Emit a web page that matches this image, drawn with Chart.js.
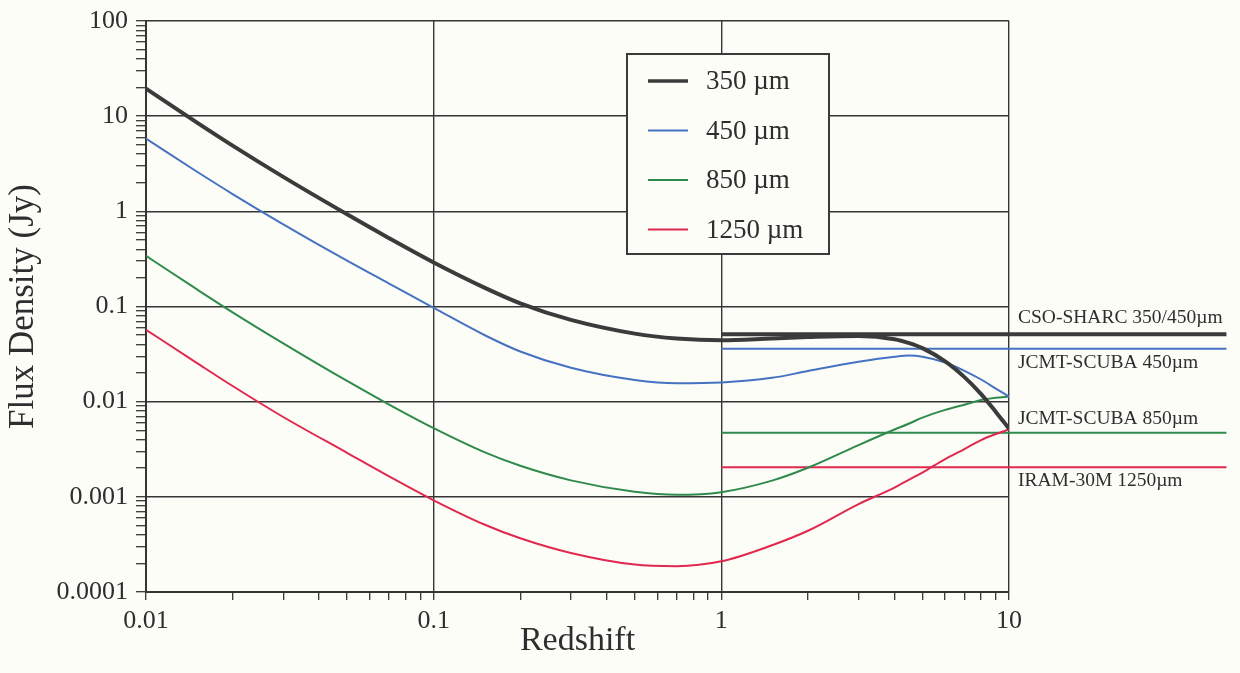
<!DOCTYPE html>
<html>
<head>
<meta charset="utf-8">
<title>Flux density vs redshift</title>
<script src="https://cdn.jsdelivr.net/npm/chart.js@4/dist/chart.umd.min.js"></script>
<style>
    html, body { margin: 0; padding: 0; background: #fdfdf8; }
    #wrap { width: 1240px; height: 673px; }
</style>
</head>
<body>
<div id="wrap"><canvas id="chartFlux" width="1240" height="673"></canvas></div>
<script>

// values
var redshift = [0.01, 0.015, 0.02, 0.03, 0.05, 0.07, 0.1, 0.15, 0.2, 0.3, 0.5, 0.7, 1, 1.5, 2, 3, 4, 4.5, 5, 6, 7, 8, 9, 10];

var flux350 = [19.5, 8.6, 4.9, 2.3, 0.93, 0.522, 0.29, 0.158, 0.108, 0.0723, 0.0519, 0.0461, 0.0442, 0.0462, 0.0477, 0.049, 0.0453, 0.0412, 0.0365, 0.0265, 0.0181, 0.012, 0.0078, 0.0052];
var flux450 = [5.8, 2.62, 1.52, 0.731, 0.303, 0.174, 0.0968, 0.0502, 0.0337, 0.0227, 0.0169, 0.0156, 0.0159, 0.0178, 0.021, 0.0262, 0.0296, 0.0305, 0.0297, 0.0258, 0.0211, 0.0171, 0.0137, 0.0113];
var flux850 = [0.34, 0.152, 0.0869, 0.041, 0.0165, 0.00933, 0.00527, 0.00295, 0.00212, 0.00149, 0.00113, 0.00105, 0.00112, 0.00148, 0.00202, 0.0035, 0.0051, 0.0059, 0.0068, 0.0082, 0.0093, 0.0104, 0.011, 0.0113];
var flux1250 = [0.057, 0.0256, 0.0146, 0.0069, 0.0029, 0.00164, 0.00092, 0.000512, 0.000367, 0.000257, 0.000194, 0.000187, 0.00021, 0.00031, 0.00044, 0.00084, 0.00125, 0.00152, 0.0018, 0.00249, 0.00318, 0.00395, 0.00457, 0.0051];

var seriesLabels = ['350 \u00b5m', '450 \u00b5m', '850 \u00b5m', '1250 \u00b5m'];

// detection limits of the instruments
var limitNames = ['CSO-SHARC 350/450\u00b5m', 'JCMT-SCUBA 450\u00b5m', 'JCMT-SCUBA 850\u00b5m', 'IRAM-30M 1250\u00b5m'];
var limitValues = [0.051, 0.036, 0.0047, 0.00205];
var limitRange = [1, 57];

var xTickValues = [0.01, 0.1, 1, 10];
var xTickLabels = ['0.01', '0.1', '1', '10'];
var yTickValues = [100, 10, 1, 0.1, 0.01, 0.001, 0.0001];
var yTickLabels = ['100', '10', '1', '0.1', '0.01', '0.001', '0.0001'];

var colors = ['#3b3b3b', '#4672c2', '#2f8a4c', '#e0294f'];
var widths = [4, 2, 2, 2];
var limitWidths = [4, 2, 2, 2];
var inkColor = '#2e2e2e';
var serif = '"Liberation Serif", "Times New Roman", serif';

function toPoints(xs, ys) {
    return xs.map(function (x, i) {
        return { x: x, y: ys[i] };
    });
}

function isDecade(v) {
    var l = Math.log10(v);
    return Math.abs(l - Math.round(l)) < 1e-6;
}

function logTicks(fromExp, toExp) {
    var ticks = [];
    for (var k = fromExp; k <= toExp; k++) {
        var base = Math.pow(10, k);
        ticks.push({ value: base });
        if (k < toExp) {
            for (var m = 2; m <= 9; m++) {
                ticks.push({ value: m * base });
            }
        }
    }
    return ticks;
}

function labelFor(value, values, labels) {
    for (var i = 0; i < values.length; i++) {
        if (Math.abs(value - values[i]) / values[i] < 1e-6) {
            return labels[i];
        }
    }
    return '';
}

var seriesData = [flux350, flux450, flux850, flux1250];
var datasets = [];

seriesData.forEach(function (values, i) {
    datasets.push({
        label: seriesLabels[i],
        data: toPoints(redshift, values),
        borderColor: colors[i],
        borderWidth: widths[i],
        pointRadius: 0,
        cubicInterpolationMode: 'monotone',
        fill: false
    });
});

limitValues.forEach(function (v, i) {
    datasets.push({
        label: limitNames[i],
        data: [{ x: limitRange[0], y: v }, { x: limitRange[1], y: v }],
        borderColor: colors[i],
        borderWidth: limitWidths[i],
        pointRadius: 0,
        clip: false,
        fill: false
    });
});

var paperPlugin = {
    id: 'paper',
    beforeDraw: function (chart) {
        var ctx = chart.ctx;
        ctx.save();
        ctx.fillStyle = '#fdfdf8';
        ctx.fillRect(0, 0, chart.width, chart.height);
        ctx.restore();
    }
};

// limit names next to the lines, and the boxed legend
var annotationPlugin = {
    id: 'annotations',
    afterDraw: function (chart) {
        var ctx = chart.ctx;
        var xs = chart.scales.x;
        var ys = chart.scales.y;
        var area = chart.chartArea;
        var offsets = [-16, 14, -14, 14];

        ctx.save();
        ctx.fillStyle = inkColor;
        ctx.font = '19.5px ' + serif;
        ctx.textAlign = 'left';
        ctx.textBaseline = 'middle';
        var textX = xs.getPixelForValue(10) + 9;
        limitNames.forEach(function (name, i) {
            ctx.fillText(name, textX, ys.getPixelForValue(limitValues[i]) + offsets[i]);
        });

        // legend box
        var bx = area.left + 481, by = area.top + 33, bw = 202, bh = 200;
        ctx.fillStyle = '#fdfdf8';
        ctx.fillRect(bx, by, bw, bh);
        ctx.strokeStyle = '#3a3a3a';
        ctx.lineWidth = 2;
        ctx.strokeRect(bx, by, bw, bh);

        ctx.font = '27px ' + serif;
        seriesLabels.forEach(function (label, i) {
            var rowY = by + 27 + i * 49.5;
            ctx.beginPath();
            ctx.strokeStyle = colors[i];
            ctx.lineWidth = i === 0 ? 3.5 : 2;
            ctx.moveTo(bx + 21, rowY);
            ctx.lineTo(bx + 61, rowY);
            ctx.stroke();
            ctx.fillStyle = inkColor;
            ctx.fillText(label, bx + 79, rowY + 1);
        });
        ctx.restore();
    }
};

function gridColor(ctx) {
    return isDecade(ctx.tick.value) ? '#353535' : 'rgba(0,0,0,0)';
}

var config = {
    type: 'line',
    data: {
        datasets: datasets
    },
    plugins: [paperPlugin, annotationPlugin],
    options: {
        responsive: false,
        animation: false,
        layout: {
            padding: { top: 21, right: 231, bottom: 0, left: 0 }
        },
        plugins: {
            legend: { display: false },
            tooltip: { enabled: false }
        },
        scales: {
            x: {
                type: 'logarithmic',
                min: 0.01,
                max: 10,
                afterBuildTicks: function (scale) {
                    scale.ticks = logTicks(-2, 1);
                },
                afterFit: function (scale) {
                    scale.height = 81;
                },
                ticks: {
                    autoSkip: false,
                    maxRotation: 0,
                    padding: 6,
                    color: inkColor,
                    font: { family: serif, size: 26 },
                    callback: function (value) {
                        return labelFor(value, xTickValues, xTickLabels);
                    }
                },
                grid: {
                    color: gridColor,
                    lineWidth: 1.4,
                    tickColor: '#353535',
                    tickWidth: 1.3,
                    tickLength: 8
                },
                border: { color: '#353535', width: 2 },
                title: {
                    display: true,
                    text: 'Redshift',
                    color: inkColor,
                    font: { family: serif, size: 34 },
                    padding: { top: 0, bottom: 12 }
                }
            },
            y: {
                type: 'logarithmic',
                min: 0.0001,
                max: 100,
                afterBuildTicks: function (scale) {
                    scale.ticks = logTicks(-4, 2);
                },
                afterFit: function (scale) {
                    scale.width = 146;
                    scale.paddingTop = 0;
                    scale.paddingBottom = 0;
                },
                ticks: {
                    autoSkip: false,
                    padding: 8,
                    color: inkColor,
                    font: { family: serif, size: 26 },
                    callback: function (value) {
                        return labelFor(value, yTickValues, yTickLabels);
                    }
                },
                grid: {
                    color: gridColor,
                    lineWidth: 1.4,
                    tickColor: '#353535',
                    tickWidth: 1.3,
                    tickLength: 10
                },
                border: { color: '#353535', width: 2 },
                title: {
                    display: true,
                    text: 'Flux Density (Jy)',
                    color: inkColor,
                    font: { family: serif, size: 35 },
                    padding: { top: 3, bottom: 0 }
                }
            }
        }
    }
};

new Chart(document.getElementById('chartFlux'), config);

</script>
</body>
</html>
